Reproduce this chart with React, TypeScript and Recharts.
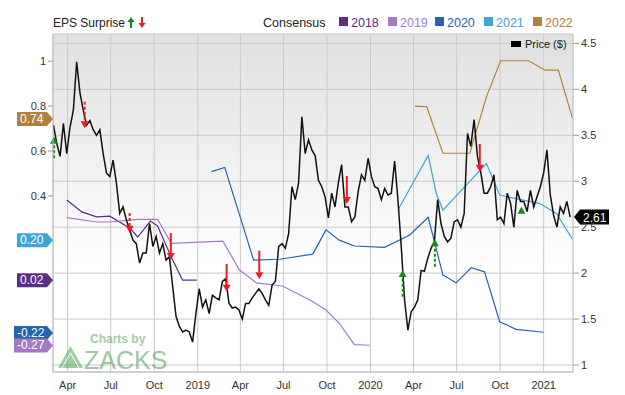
import {
  CartesianGrid,
  Line,
  LineChart,
  ReferenceDot,
  ReferenceLine,
  XAxis,
  YAxis,
} from 'recharts'

const DAY = 86400000
const toTime = (s: string) => Date.parse(s + 'T00:00:00Z')

// x range and tick dates
const xStart = '2018-03-01'
const xEnd = '2021-03-04'
const xTickDates = [
  '2018-04-01', '2018-07-01', '2018-10-01', '2019-01-01',
  '2019-04-01', '2019-07-01', '2019-10-01', '2020-01-01',
  '2020-04-01', '2020-07-01', '2020-10-01', '2021-01-01',
]
const monthNames = ['Jan', 'Feb', 'Mar', 'Apr', 'May', 'Jun', 'Jul', 'Aug', 'Sep', 'Oct', 'Nov', 'Dec']

const epsTicks = [0.4, 0.6, 0.8, 1]
const priceTicks = [1, 1.5, 2, 2.5, 3, 3.5, 4, 4.5]

// weekly closing price, first week starting 2018-03-02
const priceStart = '2018-03-02'
const priceWeekly = [
  3.61, 3.41, 3.27, 3.63, 3.30, 3.59, 3.77, 4.30, 3.96, 3.77,
  3.61, 3.66, 3.56, 3.50, 3.56, 3.30, 3.09, 3.05, 3.23, 2.98,
  2.65, 2.72, 2.58, 2.47, 2.36, 2.32, 2.11, 2.22, 2.22, 2.54,
  2.29, 2.40, 2.22, 2.32, 2.14, 2.18, 1.85, 1.53, 1.42, 1.36,
  1.38, 1.36, 1.25, 1.56, 1.83, 1.63, 1.71, 1.56, 1.76, 1.73,
  1.71, 1.91, 1.94, 1.67, 1.62, 1.63, 1.60, 1.50, 1.67, 1.67,
  1.73, 1.78, 1.83, 1.78, 1.71, 1.65, 1.87, 1.91, 2.29, 2.32,
  2.27, 2.43, 2.94, 2.80, 2.98, 3.70, 3.30, 3.45, 3.34, 3.28,
  3.01, 2.94, 2.83, 2.60, 2.87, 2.72, 2.98, 3.18, 2.72, 2.72,
  2.56, 2.61, 2.89, 3.07, 3.01, 3.25, 3.05, 2.94, 2.92, 2.80,
  2.92, 2.85, 2.87, 3.22, 2.80, 2.29, 1.71, 1.38, 1.58, 1.63,
  1.71, 2.03, 2.02, 2.16, 2.27, 2.34, 2.80, 2.54, 2.40, 2.34,
  2.38, 2.56, 2.58, 2.50, 2.65, 3.52, 3.38, 3.67, 3.27, 3.10,
  2.87, 2.87, 2.94, 3.07, 2.58, 2.61, 2.54, 2.87, 2.76, 2.50,
  2.90, 2.78, 2.78, 2.67, 2.90, 2.72, 2.83, 2.94, 3.09, 3.34,
  2.85, 2.63, 2.50, 2.72, 2.65, 2.78, 2.61,
]
const lastPrice = 2.61

// consensus estimates by fiscal year
const cons2018Dates = ['2018-03-30', '2018-05-01', '2018-06-01', '2018-06-29', '2018-08-10', '2018-08-27', '2018-09-23', '2018-10-08', '2018-11-07', '2018-11-30', '2018-12-30']
const cons2018Values = [0.382, 0.329, 0.307, 0.31, 0.257, 0.217, 0.288, 0.266, 0.123, 0.025, 0.025]

const cons2019Dates = ['2018-03-30', '2018-06-01', '2018-06-29', '2018-08-27', '2018-10-08', '2018-11-06', '2019-02-23', '2019-03-30', '2019-05-05', '2019-06-29', '2019-08-30', '2019-09-29', '2019-10-27', '2019-11-28', '2019-12-30']
const cons2019Values = [0.303, 0.284, 0.284, 0.296, 0.296, 0.189, 0.199, 0.07, 0.013, -0.001, -0.068, -0.108, -0.167, -0.262, -0.265]

const cons2020Dates = ['2019-01-30', '2019-02-27', '2019-04-29', '2019-06-23', '2019-09-01', '2019-09-29', '2019-10-27', '2019-11-28', '2020-01-31', '2020-03-24', '2020-05-02', '2020-05-16', '2020-06-02', '2020-06-30', '2020-08-01', '2020-08-29', '2020-09-30', '2020-11-04', '2021-01-01']
const cons2020Values = [0.508, 0.527, 0.114, 0.118, 0.141, 0.249, 0.203, 0.177, 0.171, 0.226, 0.305, 0.189, 0.048, 0.013, 0.08, 0.062, -0.16, -0.194, -0.207]

const cons2021Dates = ['2020-02-28', '2020-05-02', '2020-05-19', '2020-06-02', '2020-09-02', '2020-09-30', '2020-11-11', '2020-12-23', '2021-01-28', '2021-03-03']
const cons2021Values = [0.337, 0.58, 0.411, 0.337, 0.544, 0.404, 0.385, 0.367, 0.322, 0.206]

const cons2022Dates = ['2020-04-04', '2020-04-29', '2020-06-02', '2020-07-29', '2020-09-02', '2020-10-02', '2020-11-30', '2021-01-04', '2021-02-01', '2021-03-03']
const cons2022Values = [0.8, 0.797, 0.59, 0.59, 0.841, 1.002, 1.002, 0.96, 0.96, 0.745]

const consYears = ['2018', '2019', '2020', '2021', '2022']
const consColors = ['#5c2d87', '#a27bc4', '#2564ad', '#3ea6d1', '#b4813c']

// end-of-series badges on the EPS axis
const epsBadgeLabels = ['0.74', '0.20', '0.02', '-0.22', '-0.27']
const epsBadgeValues = [0.742, 0.203, 0.025, -0.21, -0.266]
const epsBadgeColors = ['#b4813c', '#3ea6d1', '#5c2d87', '#2564ad', '#a27bc4']

// EPS surprise arrows: tail price -> head price
const surpriseDates = ['2018-03-03', '2018-05-07', '2018-08-10', '2018-11-05', '2019-03-03', '2019-05-11', '2019-11-12', '2020-03-09', '2020-05-16', '2020-08-19', '2020-11-15']
const surpriseFrom = [3.25, 3.865, 2.654, 2.436, 2.099, 2.244, 3.057, 1.743, 2.07, 3.405, 2.65]
const surpriseTo = [3.484, 3.576, 2.44, 2.143, 1.798, 1.933, 2.752, 2.034, 2.368, 3.103, 2.723]
const surpriseDashed = [true, true, true, false, false, false, false, true, true, false, false]

const zip = (dates: string[], values: number[]) =>
  dates.map((s, i) => ({ t: toTime(s), v: values[i] }))

const priceData = priceWeekly.map((v, i) => ({ t: toTime(priceStart) + i * 7 * DAY, v }))
const consSeries = [
  zip(cons2018Dates, cons2018Values),
  zip(cons2019Dates, cons2019Values),
  zip(cons2020Dates, cons2020Values),
  zip(cons2021Dates, cons2021Values),
  zip(cons2022Dates, cons2022Values),
]

const fmtTick = (t: number) => {
  const dt = new Date(t)
  return dt.getUTCMonth() === 0 ? String(dt.getUTCFullYear()) : monthNames[dt.getUTCMonth()]
}

function Arrow(props: any, up: boolean, dashed: boolean) {
  const { x1, y1, y2 } = props
  const color = up ? '#178a1c' : '#ec1c24'
  const dir = y2 > y1 ? 1 : -1
  const head = 7
  const neck = y2 - dir * head
  const hasShaft = Math.abs(y2 - y1) > head
  return (
    <g>
      {hasShaft && (
        <line
          x1={x1}
          y1={y1}
          x2={x1}
          y2={neck}
          stroke={color}
          strokeWidth={2}
          strokeDasharray={dashed ? '3 2' : undefined}
        />
      )}
      <polygon points={`${x1 - 4},${neck} ${x1 + 4},${neck} ${x1},${y2}`} fill={color} />
    </g>
  )
}

function EpsBadge(props: any, label: string, color: string) {
  const { cx, cy } = props
  const w = label.length > 4 ? 39 : 36
  const h = 14
  const left = cx - w
  return (
    <g>
      <path
        d={`M${left},${cy - h / 2} L${cx - 6},${cy - h / 2} L${cx},${cy} L${cx - 6},${cy + h / 2} L${left},${cy + h / 2} Z`}
        fill={color}
      />
      <text x={left + 3} y={cy + 4} fill="#fff" fontSize={12}>
        {label}
      </text>
    </g>
  )
}

function PriceBadge(props: any) {
  const { cx, cy } = props
  const h = 15
  return (
    <g>
      <path
        d={`M${cx + 1},${cy} L${cx + 7},${cy - h / 2} L${cx + 36},${cy - h / 2} L${cx + 36},${cy + h / 2} L${cx + 7},${cy + h / 2} Z`}
        fill="#000"
      />
      <text x={cx + 10} y={cy + 4.5} fill="#fff" fontSize={12}>
        {lastPrice.toFixed(2)}
      </text>
    </g>
  )
}

function Overlay() {
  const legendX = [339, 388, 435, 484, 533]
  return (
    <svg
      width={625}
      height={395}
      style={{ position: 'absolute', left: 0, top: 0, pointerEvents: 'none' }}
      fontFamily="'Liberation Sans', Arial, sans-serif"
    >
      <text x={53} y={27} fontSize={12} fill="#222">EPS Surprise</text>
      <line x1={131} y1={28} x2={131} y2={21} stroke="#178a1c" strokeWidth={2} />
      <polygon points="127.5,22 134.5,22 131,17" fill="#178a1c" />
      <line x1={142} y1={17} x2={142} y2={24} stroke="#ec1c24" strokeWidth={2} />
      <polygon points="138.5,23 145.5,23 142,28" fill="#ec1c24" />

      <text x={263} y={27} fontSize={12.5} fill="#222">Consensus</text>
      {consYears.map((y, i) => (
        <g key={y}>
          <rect x={legendX[i]} y={17} width={9} height={9} fill={consColors[i]} />
          <text x={legendX[i] + 12} y={27} fontSize={12.5} fill={consColors[i]}>{y}</text>
        </g>
      ))}

      <rect x={511} y={41} width={10} height={6} fill="#000" />
      <text x={525} y={48} fontSize={11} fill="#222">Price ($)</text>

      <g opacity={0.5}>
        <text x={90} y={343} fontSize={12} fontWeight="bold" fill="#4c9c50">Charts by</text>
        <polygon points="58,368 70.5,346 83,368" fill="#3fa046" />
        <polyline points="62,368 70.5,353 79,368" fill="none" stroke="#fff" strokeWidth={1} />
        <text x={84} y={369} fontSize={25} fill="#3f8f45">ZACKS</text>
      </g>
    </svg>
  )
}

export default function App() {
  const xMin = toTime(xStart)
  const xMax = toTime(xEnd)
  return (
    <div
      style={{
        position: 'absolute',
        left: 0,
        top: 0,
        width: 625,
        height: 395,
        background: '#fff',
        fontFamily: "'Liberation Sans', Arial, sans-serif",
      }}
    >
      <LineChart width={625} height={395} margin={{ top: 34, right: 8, bottom: 3, left: 8 }}>
        <defs>
          <linearGradient id="plot-bg" x1="0" y1="0" x2="0" y2="1">
            <stop offset="0%" stopColor="#e0e0e0" />
            <stop offset="70%" stopColor="#ffffff" />
          </linearGradient>
        </defs>
        <CartesianGrid
          yAxisId="price"
          stroke="#cacaca"
          fill="url(#plot-bg)"
          fillOpacity={1}
        />
        <XAxis
          dataKey="t"
          type="number"
          domain={[xMin, xMax]}
          ticks={xTickDates.map(toTime)}
          tickFormatter={fmtTick}
          allowDataOverflow
          height={20}
          tickLine={false}
          axisLine={{ stroke: '#bbb' }}
          tick={{ fontSize: 11, fill: '#333' }}
          tickMargin={3}
        />
        <YAxis
          yAxisId="eps"
          orientation="left"
          domain={[-0.384, 1.121]}
          ticks={epsTicks}
          allowDataOverflow
          width={45}
          tickSize={5}
          tickLine={{ stroke: '#999' }}
          axisLine={{ stroke: '#bbb' }}
          tick={{ fontSize: 11, fill: '#333' }}
          tickMargin={2}
        />
        <YAxis
          yAxisId="price"
          orientation="right"
          domain={[0.924, 4.602]}
          ticks={priceTicks}
          allowDataOverflow
          width={44}
          tickSize={6}
          tickLine={{ stroke: '#999' }}
          axisLine={{ stroke: '#ccc' }}
          tick={{ fontSize: 11, fill: '#333' }}
          tickMargin={2}
        />
        {consSeries.map((data, i) => (
          <Line
            key={consYears[i]}
            data={data}
            dataKey="v"
            yAxisId="eps"
            type="linear"
            stroke={consColors[i]}
            strokeWidth={1.2}
            dot={false}
            isAnimationActive={false}
          />
        ))}
        <Line
          data={priceData}
          dataKey="v"
          yAxisId="price"
          type="linear"
          stroke="#111"
          strokeWidth={1.5}
          dot={false}
          isAnimationActive={false}
        />
        {surpriseDates.map((s, i) => (
          <ReferenceLine
            key={s}
            yAxisId="price"
            ifOverflow="visible"
            segment={[
              { x: toTime(s), y: surpriseFrom[i] },
              { x: toTime(s), y: surpriseTo[i] },
            ]}
            shape={(p: any) => Arrow(p, surpriseTo[i] > surpriseFrom[i], surpriseDashed[i])}
          />
        ))}
        {epsBadgeLabels.map((label, i) => (
          <ReferenceDot
            key={label}
            yAxisId="eps"
            x={xMin}
            y={epsBadgeValues[i]}
            ifOverflow="visible"
            shape={(p: any) => EpsBadge(p, label, epsBadgeColors[i])}
          />
        ))}
        <ReferenceDot
          yAxisId="price"
          x={xMax}
          y={lastPrice}
          ifOverflow="visible"
          shape={PriceBadge}
        />
      </LineChart>
      <Overlay />
    </div>
  )
}
